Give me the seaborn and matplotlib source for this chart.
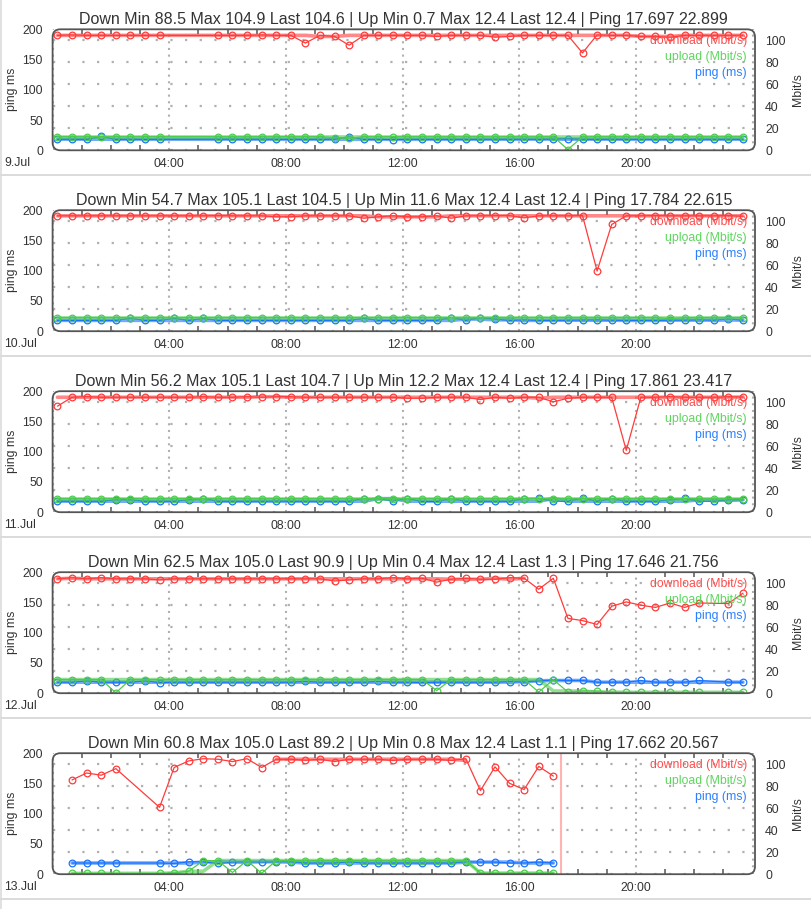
import numpy as np
import pandas as pd
import matplotlib
matplotlib.use("Agg")
import matplotlib.pyplot as plt
from matplotlib.patches import FancyBboxPatch
from matplotlib.lines import Line2D
from matplotlib.ticker import MultipleLocator, FuncFormatter
import seaborn as sns

nan = np.nan

# one measurement every 30 minutes, first one at 00:10
slots = pd.date_range("2000-01-01 00:10", periods=48, freq="30min")
hours = slots.hour + slots.minute / 60.0

days = ["9.Jul", "10.Jul", "11.Jul", "12.Jul", "13.Jul"]

titles = [
    "Down Min 88.5 Max 104.9 Last 104.6 | Up Min 0.7 Max 12.4 Last 12.4 | Ping 17.697 22.899",
    "Down Min 54.7 Max 105.1 Last 104.5 | Up Min 11.6 Max 12.4 Last 12.4 | Ping 17.784 22.615",
    "Down Min 56.2 Max 105.1 Last 104.7 | Up Min 12.2 Max 12.4 Last 12.4 | Ping 17.861 23.417",
    "Down Min 62.5 Max 105.0 Last 90.9 | Up Min 0.4 Max 12.4 Last 1.3 | Ping 17.646 21.756",
    "Down Min 60.8 Max 105.0 Last 89.2 | Up Min 0.8 Max 12.4 Last 1.1 | Ping 17.662 20.567",
]

# ---- 9.Jul
down_09 = [104.5, 104.9, 104.5, 104.5, 104.5, 104.5, 104.5, 104.5,
           nan, nan, nan, 104.5, 104.5, 104.5, 104.9, 104.5,
           104.5, 97.5, 104.5, 103.5, 95.5, 104.5, 104.5, 104.5,
           104.5, 104.5, 103.5, 104.5, 104.5, 104.5, 102.8, 103.5,
           104.5, 104.5, 104.5, 104.5, 88.5, 104.9, 104.5, 104.5,
           103.5, 103.5, 102.8, 104.5, 104.5, 104.5, 104.5, 104.6]
up_09 = [12.4, 12.4, 12.4, 12.4, 12.4, 12.4, 12.4, 12.4,
         nan, nan, nan, 12.4, 12.4, 12.4, 12.4, 12.4,
         12.4, 12.4, 12.4, 11.6, 10.9, 12.4, 12.4, 12.4,
         12.4, 12.4, 12.4, 12.4, 12.4, 12.4, 12.4, 12.4,
         12.4, 12.4, 12.4, 0.7, 12.4, 12.4, 12.4, 12.4,
         12.4, 12.4, 12.4, 12.4, 12.4, 12.4, 12.4, 12.4]
ping_09 = [18.3, 18.3, 18.2, 22.9, 18.2, 18.3, 18.2, 18.2,
           nan, nan, nan, 18.4, 18.5, 18.2, 18.6, 18.2,
           18.2, 18.3, 18.2, 18.4, 22.5, 18.1, 18.2, 17.7,
           18.3, 18.2, 18.2, 18.3, 18.2, 18.2, 18.4, 18.3,
           18.5, 18.2, 18.7, 19.4, 18.3, 18.2, 18.4, 18.2,
           18.3, 18.2, 18.3, 18.2, 18.6, 18.2, 18.4, 18.3]

# ---- 10.Jul
down_10 = [104.9, 104.9, 104.9, 104.9, 104.9, 104.9, 104.9, 104.9,
           104.9, 104.9, 104.9, 105.1, 104.9, 104.9, 104.9, 104.0,
           104.0, 104.9, 104.9, 104.9, 104.9, 102.7, 104.0, 104.9,
           104.0, 104.0, 104.9, 102.7, 104.9, 104.9, 105.1, 105.1,
           103.0, 104.9, 104.9, 104.9, 105.1, 54.7, 97.0, 104.9,
           104.9, 105.1, 104.9, 104.9, 104.9, 104.9, 105.1, 104.5]
up_10 = [12.4, 12.4, 12.4, 12.4, 12.4, 12.4, 12.4, 12.4,
         12.4, 12.4, 12.4, 12.4, 12.4, 12.4, 12.4, 12.4,
         12.4, 12.4, 12.4, 12.4, 12.4, 12.4, 12.4, 12.4,
         12.4, 12.4, 12.4, 12.4, 12.4, 12.4, 12.4, 12.4,
         12.4, 12.4, 12.4, 12.4, 12.4, 12.4, 12.4, 12.4,
         12.4, 12.4, 11.6, 12.4, 12.4, 12.4, 12.4, 12.4]
ping_10 = [17.9, 17.8, 17.9, 17.9, 17.9, 21.4, 17.9, 17.9,
           21.2, 17.9, 21.0, 17.9, 17.9, 17.9, 17.9, 17.9,
           17.9, 17.9, 17.9, 17.9, 17.9, 21.3, 17.9, 17.9,
           17.9, 17.9, 17.9, 22.6, 17.9, 22.4, 20.0, 17.9,
           18.8, 17.9, 17.9, 18.2, 18.6, 18.9, 18.2, 17.9,
           17.9, 17.9, 18.3, 18.3, 18.8, 18.3, 20.2, 18.3]

# ---- 11.Jul
down_11 = [96.4, 104.5, 105.1, 104.5, 104.5, 104.5, 104.5, 104.5,
           104.5, 104.5, 105.0, 104.5, 104.5, 105.0, 104.5, 105.0,
           105.0, 104.5, 104.5, 104.5, 104.5, 104.5, 104.5, 104.5,
           103.6, 103.6, 104.5, 104.5, 104.5, 102.4, 104.5, 103.6,
           104.5, 104.5, 100.3, 103.6, 104.5, 104.5, 104.5, 56.2,
           104.5, 104.5, 105.1, 104.5, 104.5, 104.5, 105.0, 104.7]
up_11 = [12.4, 12.4, 12.4, 12.4, 12.4, 12.4, 12.4, 12.4,
         12.4, 12.4, 12.4, 12.4, 12.4, 12.4, 12.4, 12.4,
         12.4, 12.4, 12.4, 12.4, 12.4, 12.4, 12.4, 12.4,
         12.4, 12.4, 12.4, 12.4, 12.4, 12.2, 12.4, 12.4,
         12.4, 12.4, 12.4, 12.4, 12.4, 12.4, 12.4, 12.3,
         12.4, 12.4, 12.4, 12.4, 12.4, 12.4, 12.4, 12.4]
ping_11 = [18.2, 18.2, 18.2, 18.2, 20.5, 20.5, 18.2, 18.2,
           18.2, 20.5, 22.6, 18.2, 18.2, 18.2, 18.2, 18.5,
           18.2, 18.2, 18.2, 18.2, 18.2, 22.6, 22.4, 18.2,
           22.6, 17.9, 17.9, 22.6, 18.2, 18.2, 18.2, 18.2,
           22.6, 23.0, 18.2, 18.2, 23.4, 18.2, 22.5, 18.2,
           18.2, 18.2, 20.5, 22.8, 18.2, 18.2, 20.5, 20.5]

# ---- 12.Jul
down_12 = [104.0, 105.0, 104.0, 105.0, 104.0, 104.0, 104.0, 103.0,
           104.0, 104.0, 104.0, 104.0, 104.0, 104.0, 104.0, 104.0,
           104.0, 104.0, 104.0, 102.0, 103.0, 104.0, 104.0, 105.0,
           104.0, 104.5, 101.0, 103.6, 104.5, 103.6, 103.6, 105.0,
           104.5, 94.5, 104.5, 68.0, 66.0, 62.5, 79.0, 83.0,
           80.0, 78.0, 82.0, 78.0, 82.0, nan, 81.5, 90.9]
up_12 = [12.4, 12.4, 12.4, 12.4, 0.4, 12.4, 12.4, 12.4,
         12.4, 12.4, 12.4, 12.4, 12.4, 12.4, 12.4, 12.4,
         12.4, 12.4, 12.4, 12.4, 12.4, 12.4, 12.4, 12.4,
         12.4, 12.4, 2.4, 12.4, 12.4, 12.4, 12.4, 12.4,
         12.4, 1.0, 12.4, 1.0, 2.0, 2.0, 1.0, 0.8,
         0.8, 0.6, 0.8, 0.6, 0.8, nan, 0.8, 1.3]
ping_12 = [18.2, 18.2, 20.4, 18.2, 18.2, 18.2, 20.4, 17.6,
           18.2, 18.2, 18.2, 18.2, 18.2, 18.2, 18.2, 18.2,
           18.2, 19.5, 18.2, 18.2, 18.2, 18.2, 19.5, 18.2,
           18.2, 17.7, 18.2, 18.2, 18.2, 18.2, 18.2, 19.2,
           18.5, 20.4, 21.7, 21.0, 21.0, 18.2, 18.2, 18.2,
           21.0, 18.2, 18.2, 18.2, 21.0, nan, 18.2, 18.2]

# ---- 13.Jul (day still running)
down_13 = [nan, 85.7, 92.0, 90.0, 96.0, nan, nan, 60.8,
           97.0, 103.0, 105.0, 104.5, 102.4, 105.0, 97.0, 104.5,
           104.5, 103.6, 104.5, 102.4, 104.5, 104.5, 104.5, 103.4,
           104.5, 104.5, 104.5, 103.4, 105.0, 76.0, 97.6, 82.6,
           77.0, 98.0, 89.2, nan, nan, nan, nan, nan,
           nan, nan, nan, nan, nan, nan, nan, nan]
up_13 = [nan, 0.8, 0.8, 0.8, 0.8, nan, nan, 0.8,
         1.2, 2.7, 12.4, 12.4, 1.6, 12.4, 0.8, 12.4,
         12.4, 12.4, 12.4, 12.4, 12.4, 12.4, 12.4, 12.4,
         12.4, 12.4, 12.4, 12.4, 12.4, 1.0, 1.0, 1.0,
         1.0, 1.0, 1.1, nan, nan, nan, nan, nan,
         nan, nan, nan, nan, nan, nan, nan, nan]
ping_13 = [nan, 18.5, 18.5, 18.5, 18.5, nan, nan, 18.5,
           17.7, 20.5, 20.5, 17.7, 20.0, 20.5, 20.0, 20.5,
           20.5, 18.5, 18.5, 18.5, 20.5, 18.5, 18.5, 18.5,
           18.5, 18.5, 18.5, 18.5, 20.5, 20.0, 20.0, 18.5,
           18.5, 20.0, 18.5, nan, nan, nan, nan, nan,
           nan, nan, nan, nan, nan, nan, nan, nan]
now_13 = 17.43  # current time marker on the last day

downs = [down_09, down_10, down_11, down_12, down_13]
ups = [up_09, up_10, up_11, up_12, up_13]
pings = [ping_09, ping_10, ping_11, ping_12, ping_13]

# where the smoothed (median) band is shown, in hours
band_down = [(0, 24), (0, 24), (0, 24), (0, 16.2), (7.6, 14.2)]

RED, GREEN, BLUE = "#ff3b3b", "#4ccc4c", "#1a73ff"
TXT = "#333333"

sns.set_theme(style="white")
plt.rcParams["font.family"] = ["Liberation Sans", "DejaVu Sans"]
plt.rcParams["text.color"] = TXT
plt.rcParams["axes.labelcolor"] = TXT
plt.rcParams["xtick.color"] = TXT
plt.rcParams["ytick.color"] = TXT


def median_band(df, col, span=(0, 24)):
    s = df[["hour", col]].dropna().copy()
    s[col] = s[col].rolling(5, center=True, min_periods=1).median()
    return s[(s.hour >= span[0]) & (s.hour <= span[1])]


def thin(ax, df, col, color):
    sns.lineplot(data=df, x="hour", y=col, ax=ax, color=color, linewidth=0.9,
                 marker="o", markersize=4.8, markerfacecolor="none",
                 markeredgecolor=color, markeredgewidth=0.9,
                 estimator=None, errorbar=None, legend=False)


def thick(ax, df, col, color):
    sns.lineplot(data=df, x="hour", y=col, ax=ax, color=color, linewidth=2.6,
                 alpha=0.6, estimator=None, errorbar=None, legend=False)


W, H = 811.0, 909.0
fig = plt.figure(figsize=(W / 100, H / 100), dpi=100)
left_px, right_px, axh_px = 52.6, 755.0, 121.0
tops_px = [29.3, 210.2, 391.2, 572.2, 753.2]

for i in range(5):
    top = tops_px[i]
    ax = fig.add_axes([left_px / W, 1 - (top + axh_px) / H,
                       (right_px - left_px) / W, axh_px / H])
    axr = ax.twinx()
    df = pd.DataFrame({"hour": hours, "down": downs[i], "up": ups[i], "ping": pings[i]})

    # smoothed bands first, then the measured values
    thick(ax, median_band(df, "ping"), "ping", BLUE)
    thick(axr, median_band(df, "down", band_down[i]), "down", RED)
    thick(axr, median_band(df, "up"), "up", GREEN)
    thin(ax, df, "ping", BLUE)
    thin(axr, df, "up", GREEN)
    thin(axr, df, "down", RED)

    if i == 4:
        ax.axvline(now_13, color="#ffb3b3", linewidth=1.5, zorder=5)

    ax.set_xlim(0, 24.08)
    ax.set_ylim(0, 200)
    axr.set_ylim(0, 110)
    ax.set_yticks([0, 50, 100, 150, 200])
    axr.set_yticks([0, 20, 40, 60, 80, 100])

    ax.xaxis.set_major_locator(MultipleLocator(4))
    ax.xaxis.set_minor_locator(MultipleLocator(1))
    ax.xaxis.set_major_formatter(FuncFormatter(
        lambda v, p: "%02d:00" % int(round(v)) if 0 < v < 24 else ""))
    ax.tick_params(axis="x", which="major", length=0, pad=5.5, labelsize=8.8)
    ax.tick_params(axis="x", which="minor", direction="in", length=3.5,
                   width=1.1, color="#555555", top=True, bottom=True)
    ax.tick_params(axis="y", length=0, pad=7, labelsize=8.8)
    axr.tick_params(axis="y", length=0, pad=7.2, labelsize=8.8)

    ax.grid(axis="x", which="major", color="#b0b0b0", linestyle=(0, (1, 2.2)),
            linewidth=1.5)
    ax.grid(axis="y", visible=False)
    axr.grid(axis="y", color="#b0b0b0", linestyle=(0, (1, 5.6)), linewidth=1.6)
    axr.grid(axis="x", visible=False)
    axr.set_axisbelow(True)

    ax.set_xlabel("")
    ax.set_ylabel("ping ms", fontsize=8.8)
    axr.set_ylabel("Mbit/s", fontsize=8.8)
    ax.yaxis.set_label_coords(-0.0488, 0.5)
    axr.yaxis.set_label_coords(1.052, 0.5)

    for a in (ax, axr):
        for sp in a.spines.values():
            sp.set_visible(False)

    frame = FancyBboxPatch((0, 0), 1, 1, boxstyle="round,pad=0,rounding_size=0.011",
                           mutation_aspect=(right_px - left_px) / axh_px,
                           transform=axr.transAxes, facecolor="none",
                           edgecolor="#555555", linewidth=1.3, clip_on=False, zorder=10)
    axr.add_patch(frame)

    ax.set_title(titles[i], fontsize=11.5, pad=4.0, color=TXT)

    for k, (lab, col) in enumerate([("download (Mbit/s)", "#ff4c4c"),
                                    ("upload (Mbit/s)", "#5cd65c"),
                                    ("ping (ms)", "#2a7fff")]):
        axr.text(0.9886, 1 - (11.7 + 16 * k) / axh_px, lab, transform=axr.transAxes,
                 ha="right", va="center", fontsize=8.8, color=col, zorder=11)

    fig.text(4 / W, 1 - (top + axh_px + 13) / H, days[i], ha="left", va="center",
             fontsize=8.8, color=TXT)

    # separator below each panel
    ysep = 1 - (top + 145.7) / H
    fig.add_artist(Line2D([0, 1], [ysep, ysep], transform=fig.transFigure,
                          color="#d4d4d4", linewidth=1.2))

fig.add_artist(Line2D([1 / W, 1 / W], [0, 1], transform=fig.transFigure,
                      color="#dcdcdc", linewidth=1.2))

fig.savefig("out.png", dpi=100)
